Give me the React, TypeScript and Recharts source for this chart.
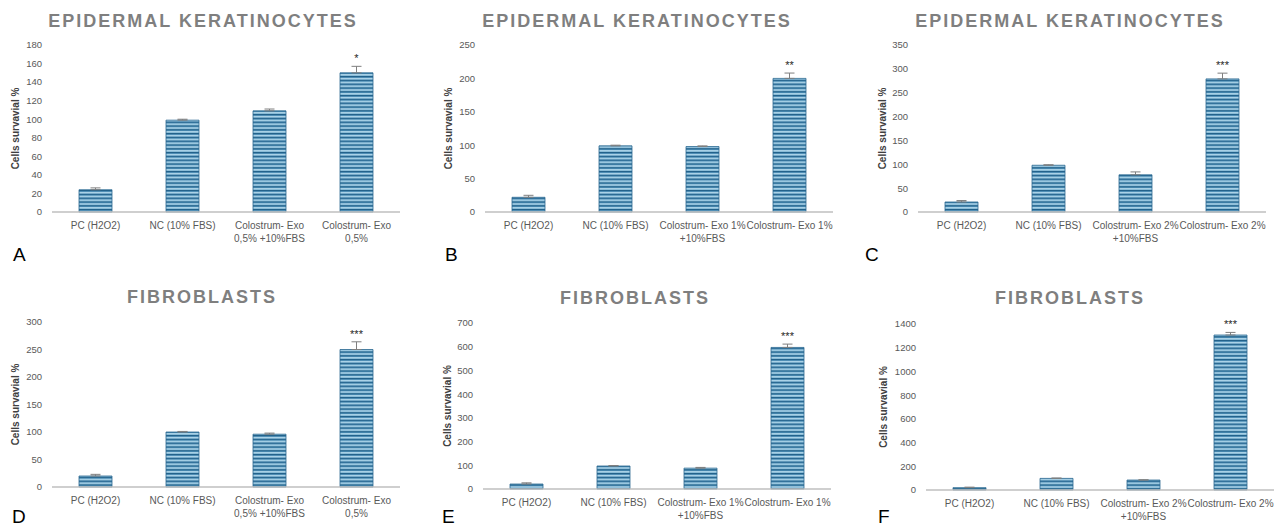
import { Bar, BarChart, ErrorBar, Label, XAxis, YAxis } from 'recharts'

// categories
const cats05 = ['PC (H2O2)', 'NC (10% FBS)', 'Colostrum- Exo\n0,5% +10%FBS', 'Colostrum- Exo\n0,5%']
const cats1 = ['PC (H2O2)', 'NC (10% FBS)', 'Colostrum- Exo 1%\n+10%FBS', 'Colostrum- Exo 1%']
const cats2 = ['PC (H2O2)', 'NC (10% FBS)', 'Colostrum- Exo 2%\n+10%FBS', 'Colostrum- Exo 2%']

// epidermal keratinocytes
const kerat05 = [24, 99, 109, 150]
const kerat05Err = [2, 1, 2, 7]
const kerat1 = [22, 99, 98, 200]
const kerat1Err = [3, 1, 1, 8]
const kerat2 = [21, 98, 78, 279]
const kerat2Err = [3, 1, 6, 12]

// fibroblasts
const fibro05 = [20, 100, 96, 250]
const fibro05Err = [3, 1, 2, 14]
const fibro1 = [21, 97, 88, 597]
const fibro1Err = [5, 2, 3, 14]
const fibro2 = [20, 98, 84, 1307]
const fibro2Err = [4, 3, 2, 22]

const sigMarks = ['', '', '', '*']
const sigMarks2 = ['', '', '', '**']
const sigMarks3 = ['', '', '', '***']

const ticksA = [0, 20, 40, 60, 80, 100, 120, 140, 160, 180]
const ticksB = [0, 50, 100, 150, 200, 250]
const ticksC = [0, 50, 100, 150, 200, 250, 300, 350]
const ticksD = [0, 50, 100, 150, 200, 250, 300]
const ticksE = [0, 100, 200, 300, 400, 500, 600, 700]
const ticksF = [0, 200, 400, 600, 800, 1000, 1200, 1400]

const FONT = '"Liberation Sans", Arial, sans-serif'

function XTick({ x, y, payload }: any) {
  const lines = String(payload.value).split('\n')
  return (
    <text x={x} y={y} textAnchor="middle" fill="#595959" fontSize={10} fontFamily={FONT}>
      {lines.map((l, i) => (
        <tspan key={i} x={x} dy={i === 0 ? 17 : 12.5}>
          {l}
        </tspan>
      ))}
    </text>
  )
}

interface PanelProps {
  id: string
  cats: string[]
  values: number[]
  errs: number[]
  sig: string[]
  ticks: number[]
  left: number
  top: number
  width: number
  yWidth: number
  marginTop: number
  xHeight: number
  labelX: number
}

function Panel(p: PanelProps) {
  const data = p.cats.map((c, i) => ({ name: c, value: p.values[i], err: [0, p.errs[i]] }))
  const max = p.ticks[p.ticks.length - 1]
  const right = Math.max(0, p.width - p.yWidth - 348)
  return (
    <div style={{ position: 'absolute', left: p.left, top: p.top }}>
      <BarChart
        width={p.width}
        height={264}
        data={data}
        margin={{ top: p.marginTop, right, bottom: 0, left: 0 }}
        barCategoryGap="0%"
      >
        <defs>
          <pattern id={'stripes' + p.id} patternUnits="userSpaceOnUse" width={8} height={3.8}>
            <rect x={0} y={0} width={8} height={3.8} fill="#5496be" />
            <rect x={0} y={0} width={8} height={1.2} fill="#22618a" />
            <rect x={0} y={1.9} width={8} height={1.5} fill="#b0d6ea" />
          </pattern>
        </defs>
        <XAxis
          dataKey="name"
          interval={0}
          tickLine={false}
          tickSize={0}
          tickMargin={0}
          height={p.xHeight}
          axisLine={{ stroke: '#bfbfbf', strokeWidth: 1.5 }}
          tick={<XTick />}
        />
        <YAxis
          width={p.yWidth}
          domain={[0, max]}
          ticks={p.ticks}
          axisLine={false}
          tickLine={false}
          tickSize={0}
          tickMargin={10}
          tick={{ fill: '#595959', fontSize: 9.5, fontFamily: FONT }}
        >
          <Label
            value="Cells survavial %"
            angle={-90}
            position="insideLeft"
            offset={p.labelX}
            style={{ textAnchor: 'middle', fill: '#404040', fontSize: 10, fontWeight: 700, fontFamily: FONT }}
          />
        </YAxis>
        <Bar
          dataKey="value"
          barSize={33}
          fill={`url(#stripes${p.id})`}
          stroke="#2b6890"
          strokeWidth={0.8}
          isAnimationActive={false}
          label={(lp: any) => {
            const i = lp.index
            if (!p.sig[i]) return null
            const errPx = (p.errs[i] / p.values[i]) * lp.height
            return (
              <text
                key={'sig' + i}
                x={lp.x + lp.width / 2}
                y={lp.y - errPx - 4}
                textAnchor="middle"
                fontSize={11}
                fill="#262626"
                fontFamily={FONT}
              >
                {p.sig[i]}
              </text>
            )
          }}
        >
          <ErrorBar dataKey="err" width={5} stroke="#7f7f7f" strokeWidth={1} direction="y" />
        </Bar>
      </BarChart>
    </div>
  )
}

const titles = [
  { text: 'EPIDERMAL KERATINOCYTES', x: 203, y: 26.5 },
  { text: 'EPIDERMAL KERATINOCYTES', x: 637, y: 26.5 },
  { text: 'EPIDERMAL KERATINOCYTES', x: 1070, y: 26.5 },
  { text: 'FIBROBLASTS', x: 202, y: 302.5 },
  { text: 'FIBROBLASTS', x: 635, y: 303.5 },
  { text: 'FIBROBLASTS', x: 1070, y: 303.5 },
]

const letters = [
  { text: 'A', x: 13, y: 261 },
  { text: 'B', x: 445, y: 261 },
  { text: 'C', x: 865, y: 261 },
  { text: 'D', x: 12, y: 523 },
  { text: 'E', x: 442, y: 523 },
  { text: 'F', x: 878, y: 523 },
]

export default function App() {
  return (
    <div
      style={{
        position: 'absolute',
        left: 0,
        top: 0,
        width: 1274,
        height: 528,
        background: '#ffffff',
        overflow: 'hidden',
        fontFamily: FONT,
      }}
    >
      <Panel id="a" cats={cats05} values={kerat05} errs={kerat05Err} sig={sigMarks} ticks={ticksA}
        left={0} top={0} width={410} yWidth={52} marginTop={45} xHeight={52} labelX={15} />
      <Panel id="b" cats={cats1} values={kerat1} errs={kerat1Err} sig={sigMarks2} ticks={ticksB}
        left={420} top={0} width={420} yWidth={65} marginTop={45} xHeight={52} labelX={28} />
      <Panel id="c" cats={cats2} values={kerat2} errs={kerat2Err} sig={sigMarks3} ticks={ticksC}
        left={850} top={0} width={424} yWidth={68} marginTop={45} xHeight={52} labelX={32} />
      <Panel id="d" cats={cats05} values={fibro05} errs={fibro05Err} sig={sigMarks3} ticks={ticksD}
        left={0} top={264} width={410} yWidth={52} marginTop={58} xHeight={41} labelX={15} />
      <Panel id="e" cats={cats1} values={fibro1} errs={fibro1Err} sig={sigMarks3} ticks={ticksE}
        left={420} top={264} width={420} yWidth={63} marginTop={59} xHeight={39} labelX={27} />
      <Panel id="f" cats={cats2} values={fibro2} errs={fibro2Err} sig={sigMarks3} ticks={ticksF}
        left={850} top={264} width={424} yWidth={76} marginTop={60} xHeight={38} labelX={33} />
      <svg width={1274} height={528} style={{ position: 'absolute', left: 0, top: 0, pointerEvents: 'none' }}>
        {titles.map((t, i) => (
          <text key={i} x={t.x} y={t.y} textAnchor="middle" fontSize={18} fontWeight={700}
            letterSpacing={2} fill="#7f7f7f" fontFamily={FONT}>
            {t.text}
          </text>
        ))}
        {letters.map((l) => (
          <text key={l.text} x={l.x} y={l.y} fontSize={19} fill="#000000" fontFamily={FONT}>
            {l.text}
          </text>
        ))}
      </svg>
    </div>
  )
}
